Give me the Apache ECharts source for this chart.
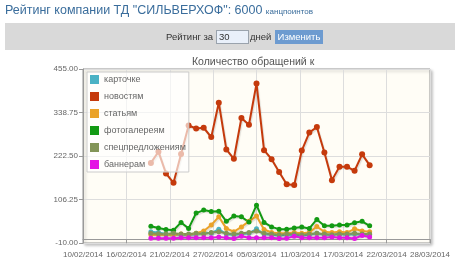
<!DOCTYPE html>
<html>
<head>
<meta charset="utf-8">
<script src="https://cdn.jsdelivr.net/npm/echarts@6/dist/echarts.min.js"></script>
<style>
  html, body { margin: 0; padding: 0; background: #fff; }
  body { width: 460px; height: 267px; position: relative; overflow: hidden; font-family: 'Liberation Sans', Arial, sans-serif; }
  #chart { position: absolute; left: 0; top: 0; width: 460px; height: 267px; }
  #title { position: absolute; left: 5px; top: 3px; font-size: 12.5px; color: #3a6d9c; white-space: nowrap; }
  #title small { font-size: 8px; }
  #bar { position: absolute; left: 5px; top: 23px; width: 450px; height: 27px; background: #d9d9d9; }
  #bar .lbl { position: absolute; top: 8px; font-size: 9.5px; color: #333; white-space: nowrap; }
  #bar .inp { position: absolute; left: 211px; top: 7px; width: 29px; height: 12px; border: 1px solid #9aa3ad; background: #e9f0fa; font-size: 9.5px; line-height: 12px; padding-left: 2px; color: #333; }
  #bar .btn { position: absolute; left: 270px; top: 7px; width: 48px; height: 14px; background: #6d9bd0; color: #fff; font-size: 9.5px; line-height: 14px; text-align: center; }
</style>
</head>
<body>
<div id="chart"></div>
<div id="title">Рейтинг компании ТД "СИЛЬВЕРХОФ": 6000 <small>канцпоинтов</small></div>
<div id="bar">
  <span class="lbl" style="left:161px">Рейтинг за</span>
  <div class="inp">30</div>
  <span class="lbl" style="left:245px">дней</span>
  <div class="btn">Изменить</div>
</div>
<script>
// days shown (dd/mm, 2014)
const dates = ['19/02', '20/02', '21/02', '22/02', '23/02', '24/02', '25/02', '26/02', '27/02', '28/02',
  '01/03', '02/03', '03/03', '04/03', '05/03', '06/03', '07/03', '08/03', '09/03', '10/03',
  '11/03', '12/03', '13/03', '14/03', '15/03', '16/03', '17/03', '18/03', '19/03', '20/03'];

const xTickLabels = ['10/02/2014', '16/02/2014', '21/02/2014', '27/02/2014', '05/03/2014',
  '11/03/2014', '17/03/2014', '22/03/2014', '28/03/2014'];
const yTicks = [-10, 106.25, 222.5, 338.75, 455];

const seriesNames = ['карточке', 'новостям', 'статьям', 'фотогалереям', 'спецпредложениям', 'баннерам'];
const colors = ['#4bb2c5', '#c53a0c', '#eaa228', '#139a13', '#839557', '#e414e4'];

const kartochke = [20, 18, 14, 14, 12, 12, 14, 18, 16, 27, 14, 12, 14, 16, 28, 14, 12, 10, 12, 12,
  10, 12, 16, 12, 12, 14, 12, 14, 12, 12];
const novostyam = [204, 234, 176, 151, 228, 304, 296, 298, 273, 365, 240, 215, 324, 306, 416, 238,
  214, 180, 147, 145, 237, 285, 300, 232, 158, 194, 194, 183, 227, 198];
const statyam = [12, 12, 12, 12, 14, 12, 16, 22, 38, 60, 29, 20, 33, 48, 62, 26, 18, 16, 16, 18,
  16, 18, 34, 20, 18, 20, 18, 28, 22, 20];
const fotogaleryam = [35, 30, 26, 24, 45, 29, 70, 78, 74, 75, 48, 62, 60, 46, 91, 45, 33, 27, 27, 30,
  33, 29, 53, 36, 36, 38, 38, 44, 48, 36];
const specpredl = [16, 15, 14, 16, 14, 14, 16, 14, 18, 20, 16, 14, 16, 18, 22, 16, 14, 12, 14, 14,
  12, 14, 16, 14, 12, 14, 14, 16, 14, 14];
const banneram = [3, 3, 3, 3, 4, 4, 4, 4, 4, 6, 4, 2, 8, 4, 4, 4, 4, 2, 3, 8,
  4, 4, 4, 4, 6, 4, 4, 2, 10, 6];

const allValues = [kartochke, novostyam, statyam, fotogaleryam, specpredl, banneram];

// day offset from 10/02/2014
const base = Date.UTC(2014, 1, 10);
const dayX = dates.map(d => {
  const [dd, mm] = d.split('/').map(Number);
  return (Date.UTC(2014, mm - 1, dd) - base) / 86400000;
});
const tickStep = 46 / (xTickLabels.length - 1);

const chart = echarts.init(document.getElementById('chart'), null, { renderer: 'canvas' });

const option = {
  animation: false,
  title: {
    text: 'Количество обращений к',
    left: 187,
    top: 52,
    textStyle: { fontSize: 10.5, fontWeight: 'normal', color: '#555', fontFamily: 'Liberation Sans, Arial, sans-serif' }
  },
  legend: {
    orient: 'vertical',
    left: 87,
    top: 72,
    padding: [3, 3, 3, 3],
    itemGap: 8,
    itemWidth: 9,
    itemHeight: 9,
    icon: 'rect',
    backgroundColor: 'rgba(255,255,255,0.65)',
    borderColor: '#ccc',
    borderWidth: 1,
    textStyle: { fontSize: 9, color: '#666', lineHeight: 9, fontFamily: 'Liberation Sans, Arial, sans-serif' },
    data: seriesNames
  },
  grid: {
    left: 83, right: 30, top: 69, bottom: 24,
    show: true,
    backgroundColor: '#fffdf6',
    borderColor: '#999',
    borderWidth: 1,
    shadowColor: 'rgba(0,0,0,0.25)',
    shadowBlur: 3,
    shadowOffsetX: 2,
    shadowOffsetY: 2
  },
  xAxis: {
    type: 'value',
    min: 0,
    max: 46,
    interval: tickStep,
    axisLine: { show: true, lineStyle: { color: '#999' } },
    axisTick: { show: true, length: 4, lineStyle: { color: '#999' } },
    splitLine: { show: true, lineStyle: { color: '#ddd' } },
    axisLabel: {
      fontSize: 8,
      color: '#666',
      margin: 8,
      showMaxLabel: true,
      showMinLabel: true,
      fontFamily: 'Liberation Sans, Arial, sans-serif',
      formatter: v => xTickLabels[Math.round(v / tickStep)]
    }
  },
  yAxis: {
    type: 'value',
    min: -10,
    max: 455,
    axisLine: { show: true, lineStyle: { color: '#999' } },
    axisTick: { show: true, length: 4, customValues: yTicks, lineStyle: { color: '#999' } },
    splitLine: { show: true, lineStyle: { color: '#ddd' } },
    axisLabel: {
      customValues: yTicks,
      fontSize: 8,
      color: '#666',
      margin: 5,
      fontFamily: 'Liberation Sans, Arial, sans-serif',
      formatter: v => Number(v).toFixed(2)
    }
  },
  series: seriesNames.map((name, i) => ({
    name,
    type: 'line',
    color: colors[i],
    symbol: 'circle',
    symbolSize: i === 1 ? 6 : 5,
    showAllSymbol: true,
    lineStyle: {
      width: 2,
      shadowColor: 'rgba(0,0,0,0.12)',
      shadowOffsetX: 1,
      shadowOffsetY: 1.5,
      shadowBlur: 1
    },
    data: allValues[i].map((v, j) => [dayX[j], v])
  }))
};

chart.setOption(option);
</script>
</body>
</html>
